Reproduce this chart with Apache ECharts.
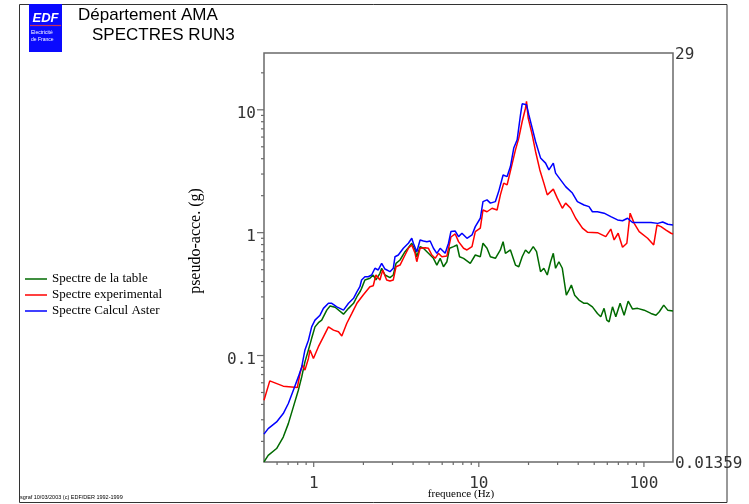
<!DOCTYPE html>
<html><head><meta charset="utf-8">
<script src="https://cdn.jsdelivr.net/npm/echarts@6/dist/echarts.min.js"></script>
<style>html,body{margin:0;padding:0;background:#fff}#c{width:749px;height:504px}</style>
</head><body><div id="c"></div>
<script>
// ---- data (frequence Hz, pseudo-acceleration g) ----
const seriesNames = ['Spectre de la table', 'Spectre experimental', 'Spectre Calcul Aster'];
const seriesColors = ['#006a00', '#ff0000', '#0000ff'];

const tableSpectrum = [[0.5,0.0136],[0.53,0.0154],[0.596,0.0175],[0.654,0.0217],[0.702,0.0279],[0.753,0.0382],[0.807,0.0522],[0.846,0.067],[0.885,0.0888],[0.929,0.111],[0.972,0.138],[1.018,0.171],[1.068,0.185],[1.118,0.194],[1.2,0.234],[1.256,0.253],[1.348,0.247],[1.515,0.217],[1.625,0.242],[1.743,0.266],[1.826,0.301],[1.918,0.335],[1.95,0.352],[2.042,0.412],[2.19,0.425],[2.294,0.452],[2.382,0.412],[2.519,0.467],[2.58,0.513],[2.702,0.452],[2.897,0.43],[3.034,0.452],[3.151,0.563],[3.333,0.599],[3.574,0.70],[3.743,0.755],[3.926,0.82],[4.111,0.723],[4.21,0.637],[4.409,0.769],[4.618,0.746],[4.953,0.679],[5.311,0.618],[5.57,0.545],[5.834,0.618],[6.109,0.528],[6.409,0.58],[6.646,0.746],[7.028,0.769],[7.372,0.794],[7.644,0.637],[8.083,0.618],[8.878,0.563],[9.522,0.658],[10.21,0.637],[10.6,0.82],[11.21,0.746],[11.75,0.637],[12.6,0.618],[13.51,0.723],[14.03,0.845],[14.49,0.679],[15.54,0.723],[16.67,0.545],[17.46,0.528],[18.31,0.637],[19.17,0.723],[20.08,0.679],[21.36,0.769],[22.37,0.70],[23.65,0.481],[24.77,0.513],[25.98,0.452],[27.21,0.58],[28.26,0.679],[29.17,0.513],[30.55,0.58],[32.04,0.513],[33.89,0.31],[35.15,0.341],[36.35,0.375],[38.07,0.31],[40.44,0.283],[43.36,0.266],[45.49,0.266],[48.76,0.249],[52.3,0.22],[54.78,0.207],[57.37,0.242],[59.58,0.194],[61.53,0.188],[64.52,0.249],[67.57,0.207],[71.75,0.266],[75.88,0.213],[80.27,0.277],[85.35,0.239],[91.55,0.242],[100.4,0.234],[110.3,0.22],[118.3,0.213],[123.9,0.227],[131.8,0.257],[139.4,0.234],[150,0.23]];

const experimentalSpectrum = [[0.5,0.0433],[0.542,0.0622],[0.582,0.0599],[0.654,0.0563],[0.735,0.0555],[0.796,0.0549],[0.826,0.0714],[0.854,0.0835],[0.885,0.076],[0.929,0.0946],[0.95,0.111],[0.996,0.0946],[1.068,0.118],[1.145,0.142],[1.228,0.171],[1.318,0.161],[1.413,0.156],[1.48,0.144],[1.587,0.183],[1.702,0.22],[1.826,0.266],[1.994,0.311],[2.19,0.363],[2.294,0.37],[2.382,0.452],[2.519,0.412],[2.616,0.497],[2.766,0.412],[2.897,0.404],[3.034,0.412],[3.151,0.528],[3.333,0.545],[3.574,0.658],[3.743,0.746],[3.926,0.794],[4.111,0.679],[4.21,0.58],[4.409,0.746],[4.729,0.755],[4.953,0.746],[5.194,0.658],[5.44,0.618],[5.697,0.679],[5.974,0.637],[6.409,0.646],[6.776,0.922],[7.197,0.976],[7.537,0.845],[8.083,0.746],[8.478,0.723],[9.094,0.769],[9.522,1.02],[10.21,1.09],[10.6,1.53],[11.21,1.48],[12.03,1.58],[12.9,1.53],[13.51,2.03],[14.15,2.53],[14.84,2.45],[15.69,3.35],[16.67,4.72],[17.46,5.88],[18.31,8.03],[19.17,10.3],[19.45,11.7],[19.91,8.56],[21.06,6.26],[22.06,4.58],[23.42,3.24],[24.77,2.53],[25.98,2.03],[28.26,2.26],[29.88,1.91],[32.04,1.58],[33.56,1.74],[35.99,1.58],[38.61,1.31],[42.42,1.09],[45.49,1.01],[52.3,1.0],[58.75,0.928],[63.02,1.07],[66.0,0.872],[69.8,0.989],[74.2,0.76],[78.8,0.82],[82.5,1.44],[87.3,1.19],[93.6,1.02],[105.3,0.90],[114.6,0.794],[120,1.155],[126.9,1.12],[136.1,1.05],[145.9,0.989],[150,0.976]];

const asterSpectrum = [[0.5,0.0229],[0.53,0.0254],[0.596,0.0288],[0.654,0.0337],[0.702,0.0407],[0.753,0.0522],[0.807,0.067],[0.846,0.0808],[0.885,0.111],[0.929,0.133],[0.972,0.171],[1.018,0.194],[1.092,0.213],[1.145,0.242],[1.228,0.266],[1.287,0.266],[1.38,0.249],[1.515,0.234],[1.625,0.266],[1.743,0.292],[1.826,0.33],[1.904,0.363],[1.95,0.412],[2.042,0.438],[2.139,0.438],[2.243,0.452],[2.349,0.513],[2.46,0.497],[2.58,0.563],[2.702,0.506],[2.897,0.481],[3.034,0.513],[3.107,0.637],[3.254,0.658],[3.491,0.746],[3.743,0.82],[3.926,0.90],[4.014,0.82],[4.21,0.70],[4.409,0.872],[4.618,0.856],[4.843,0.845],[5.072,0.856],[5.311,0.746],[5.57,0.679],[5.834,0.746],[6.257,0.679],[6.553,0.82],[6.776,1.02],[7.197,1.03],[7.537,0.928],[7.905,0.989],[8.478,0.90],[9.094,0.958],[9.522,1.12],[10.21,1.31],[10.6,1.79],[11.21,1.85],[11.75,1.74],[12.6,1.79],[13.19,2.16],[14.03,2.95],[14.84,2.86],[15.54,3.45],[16.28,4.88],[17.07,5.70],[17.88,9.11],[18.31,11.2],[19.45,11.0],[20.08,9.11],[21.06,7.10],[22.06,5.52],[23.65,4.06],[25.37,3.68],[26.57,3.24],[28.26,3.68],[29.17,3.05],[31.28,2.69],[33.56,2.37],[36.87,2.10],[39.54,1.79],[43.36,1.68],[46.5,1.63],[48.76,1.48],[52.3,1.48],[57.37,1.44],[63.02,1.35],[69.21,1.27],[74.22,1.25],[79.59,1.31],[85.35,1.21],[95.9,1.21],[110.3,1.21],[121.2,1.19],[129.9,1.22],[139.4,1.17],[150,1.155]];

// axis range and tick values
const xRange = [0.5, 150];
const yRange = [0.01359, 29];
const yEndLabels = ['0.01359', '29'];
const xMajorTicks = [1, 10, 100];
const xMinorTicks = [0.6,0.7,0.8,0.9,2,3,4,5,6,7,8,9,20,30,40,50,60,70,80,90];
const yMajorTicks = [0.1, 1, 10];
const yMinorTicks = [0.02,0.03,0.04,0.05,0.06,0.07,0.08,0.09,0.2,0.3,0.4,0.5,0.6,0.7,0.8,0.9,2,3,4,5,6,7,8,9,20];

// ---- chart ----
const chart = echarts.init(document.getElementById('c'), null, {renderer: 'canvas'});
const MONO = '"DejaVu Sans Mono", monospace';
const SERIF = '"Liberation Serif", "Times New Roman", serif';
const SANS = '"Liberation Sans", Arial, sans-serif';
const AXIS_COLOR = '#6a6a6a';

function isPow10(v) {
  const l = Math.log10(v);
  return Math.abs(l - Math.round(l)) < 1e-6;
}
function pow10Label(v) {
  if (!isPow10(v)) return '';
  const l = Math.round(Math.log10(v));
  return l < 0 ? (Math.pow(10, l)).toFixed(-l) : String(Math.pow(10, l));
}

function tickSeries(values, dir, len) {
  const data = values.map(v => dir === 'x' ? [v, yRange[0]] : [xRange[0], v]);
  return {
    type: 'custom', silent: true, clip: false, z: 5,
    encode: {x: 0, y: 1},
    data: data,
    renderItem: function (params, api) {
      const p = api.coord([api.value(0), api.value(1)]);
      const shape = dir === 'x'
        ? {x1: p[0], y1: p[1], x2: p[0], y2: p[1] + len}
        : {x1: p[0], y1: p[1], x2: p[0] - len, y2: p[1]};
      return {type: 'line', shape: shape, style: {stroke: AXIS_COLOR, lineWidth: 1.2}};
    }
  };
}

const lineSeries = [tableSpectrum, experimentalSpectrum, asterSpectrum].map((d, i) => ({
  name: seriesNames[i], type: 'line', data: d, symbol: 'none', showSymbol: false,
  lineStyle: {width: 1.5, color: seriesColors[i]}, itemStyle: {color: seriesColors[i]},
  z: 3 + i
}));

chart.setOption({
  animation: false,
  backgroundColor: '#fff',
  grid: {left: 264, right: 76, top: 53, bottom: 42, show: true, borderColor: AXIS_COLOR, borderWidth: 1.5,
         containLabel: false, outerBoundsMode: 'none'},
  legend: {
    data: seriesNames, orient: 'vertical', left: 25, top: 272, padding: 0,
    icon: 'rect', itemWidth: 22, itemHeight: 1.5, itemGap: 2,
    textStyle: {fontFamily: SERIF, fontSize: 13, color: '#000', lineHeight: 14}
  },
  xAxis: {
    type: 'log', logBase: 10, min: xRange[0], max: xRange[1],
    axisLine: {show: false}, axisTick: {show: false}, splitLine: {show: false},
    axisLabel: {formatter: pow10Label, fontFamily: MONO, fontSize: 16, color: '#333', margin: 14,
                showMinLabel: false, showMaxLabel: false}
  },
  yAxis: [{
    type: 'log', logBase: 10, min: yRange[0], max: yRange[1], position: 'left',
    axisLine: {show: false}, axisTick: {show: false}, splitLine: {show: false},
    axisLabel: {formatter: pow10Label, fontFamily: MONO, fontSize: 16, color: '#333', margin: 8,
                verticalAlign: 'top', lineHeight: 8, showMinLabel: false, showMaxLabel: false}
  }, {
    type: 'log', logBase: 10, min: yRange[0], max: yRange[1], position: 'right',
    axisLine: {show: false}, axisTick: {show: false}, splitLine: {show: false},
    axisLabel: {
      fontFamily: MONO, fontSize: 16, color: '#333', margin: 2, verticalAlign: 'top', lineHeight: 3,
      showMinLabel: true, showMaxLabel: true,
      formatter: function (v) {
        if (Math.abs(v / yRange[0] - 1) < 1e-3) return yEndLabels[0];
        if (Math.abs(v / yRange[1] - 1) < 1e-3) return yEndLabels[1];
        return '';
      }
    }
  }],
  series: lineSeries.concat([
    tickSeries(xMajorTicks, 'x', 5),
    tickSeries(xMinorTicks, 'x', 3),
    tickSeries(yMajorTicks, 'y', 7),
    tickSeries(yMinorTicks, 'y', 3)
  ]),
  graphic: [
    {type: 'rect', shape: {x: 19.5, y: 4.5, width: 707.5, height: 498}, style: {fill: 'none', stroke: '#333', lineWidth: 1}, z: 0},
    {type: 'rect', shape: {x: 29, y: 4, width: 33, height: 48}, style: {fill: '#0a0aff'}},
    {type: 'text', x: 45.5, y: 18, style: {text: 'EDF', fill: '#fff', font: 'italic bold 13px ' + SANS, textAlign: 'center', textVerticalAlign: 'middle'}},
    {type: 'line', shape: {x1: 30, y1: 25.5, x2: 61, y2: 25.5}, style: {stroke: '#c8305a', lineWidth: 1.2}},
    {type: 'text', x: 31, y: 33, style: {text: 'Electricité', fill: '#fff', font: '5px ' + SANS, textVerticalAlign: 'middle'}},
    {type: 'text', x: 31, y: 40, style: {text: 'de France', fill: '#fff', font: '5px ' + SANS, textVerticalAlign: 'middle'}},
    {type: 'text', x: 78, y: 15, style: {text: 'Département AMA', fill: '#000', font: '17px ' + SANS, textVerticalAlign: 'middle'}},
    {type: 'text', x: 92, y: 35, style: {text: 'SPECTRES RUN3', fill: '#000', font: '17px ' + SANS, textVerticalAlign: 'middle'}},
    {type: 'text', x: 196, y: 241, rotation: Math.PI / 2, style: {text: 'pseudo-acce. (g)', fill: '#000', font: '16px ' + SERIF, textAlign: 'center', textVerticalAlign: 'middle'}},
    {type: 'text', x: 461, y: 494, style: {text: 'frequence (Hz)', fill: '#000', font: '11px ' + SERIF, textAlign: 'center', textVerticalAlign: 'middle'}},
    {type: 'text', x: 20, y: 497, style: {text: 'sgraf 10/03/2003 (c) EDF/DER 1992-1999', fill: '#000', font: '5.5px ' + SANS, textVerticalAlign: 'middle'}}
  ]
});
</script>
</body></html>
